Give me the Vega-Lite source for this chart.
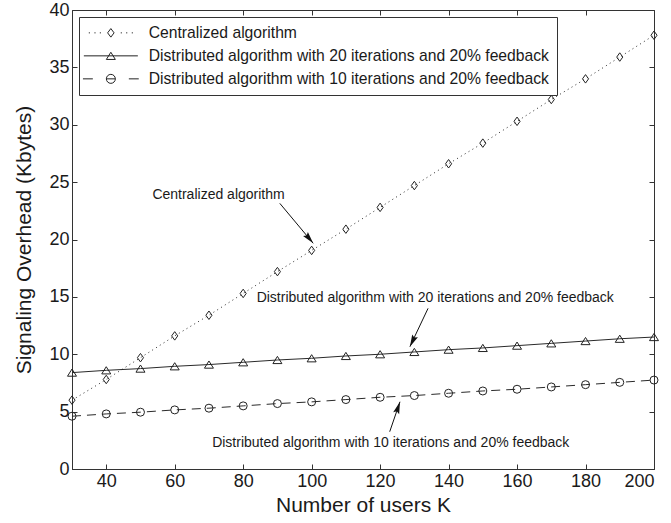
{
  "$schema": "https://vega.github.io/schema/vega-lite/v6.json",
  "width": 582,
  "height": 459,
  "autosize": {"type": "none"},
  "padding": {"left": 72, "top": 10, "right": 17, "bottom": 54},
  "background": "white",
  "config": {
    "font": "Liberation Sans",
    "view": {"stroke": "#333", "strokeWidth": 1},
    "axis": {
      "grid": false,
      "domainColor": "#333",
      "tickColor": "#333",
      "labelColor": "#1a1a1a",
      "titleColor": "#1a1a1a",
      "labelFont": "Liberation Sans",
      "titleFont": "Liberation Sans",
      "labelFontSize": 18,
      "titleFontSize": 21,
      "titleFontWeight": "normal",
      "tickSize": -5,
      "labelPadding": 8
    }
  },
  "datasets": {
    "series": [
      {"K": 30, "v": 6.0, "s": "Centralized algorithm"},
      {"K": 40, "v": 7.8, "s": "Centralized algorithm"},
      {"K": 50, "v": 9.7, "s": "Centralized algorithm"},
      {"K": 60, "v": 11.6, "s": "Centralized algorithm"},
      {"K": 70, "v": 13.4, "s": "Centralized algorithm"},
      {"K": 80, "v": 15.3, "s": "Centralized algorithm"},
      {"K": 90, "v": 17.2, "s": "Centralized algorithm"},
      {"K": 100, "v": 19.05, "s": "Centralized algorithm"},
      {"K": 110, "v": 20.9, "s": "Centralized algorithm"},
      {"K": 120, "v": 22.8, "s": "Centralized algorithm"},
      {"K": 130, "v": 24.7, "s": "Centralized algorithm"},
      {"K": 140, "v": 26.6, "s": "Centralized algorithm"},
      {"K": 150, "v": 28.4, "s": "Centralized algorithm"},
      {"K": 160, "v": 30.3, "s": "Centralized algorithm"},
      {"K": 170, "v": 32.2, "s": "Centralized algorithm"},
      {"K": 180, "v": 34.0, "s": "Centralized algorithm"},
      {"K": 190, "v": 35.9, "s": "Centralized algorithm"},
      {"K": 200, "v": 37.8, "s": "Centralized algorithm"},
      {"K": 30, "v": 8.4, "s": "Distributed algorithm with 20 iterations and 20% feedback"},
      {"K": 40, "v": 8.6, "s": "Distributed algorithm with 20 iterations and 20% feedback"},
      {"K": 50, "v": 8.75, "s": "Distributed algorithm with 20 iterations and 20% feedback"},
      {"K": 60, "v": 8.95, "s": "Distributed algorithm with 20 iterations and 20% feedback"},
      {"K": 70, "v": 9.1, "s": "Distributed algorithm with 20 iterations and 20% feedback"},
      {"K": 80, "v": 9.3, "s": "Distributed algorithm with 20 iterations and 20% feedback"},
      {"K": 90, "v": 9.5, "s": "Distributed algorithm with 20 iterations and 20% feedback"},
      {"K": 100, "v": 9.65, "s": "Distributed algorithm with 20 iterations and 20% feedback"},
      {"K": 110, "v": 9.85, "s": "Distributed algorithm with 20 iterations and 20% feedback"},
      {"K": 120, "v": 10.0, "s": "Distributed algorithm with 20 iterations and 20% feedback"},
      {"K": 130, "v": 10.2, "s": "Distributed algorithm with 20 iterations and 20% feedback"},
      {"K": 140, "v": 10.4, "s": "Distributed algorithm with 20 iterations and 20% feedback"},
      {"K": 150, "v": 10.55, "s": "Distributed algorithm with 20 iterations and 20% feedback"},
      {"K": 160, "v": 10.75, "s": "Distributed algorithm with 20 iterations and 20% feedback"},
      {"K": 170, "v": 10.95, "s": "Distributed algorithm with 20 iterations and 20% feedback"},
      {"K": 180, "v": 11.15, "s": "Distributed algorithm with 20 iterations and 20% feedback"},
      {"K": 190, "v": 11.35, "s": "Distributed algorithm with 20 iterations and 20% feedback"},
      {"K": 200, "v": 11.5, "s": "Distributed algorithm with 20 iterations and 20% feedback"},
      {"K": 30, "v": 4.6, "s": "Distributed algorithm with 10 iterations and 20% feedback"},
      {"K": 40, "v": 4.8, "s": "Distributed algorithm with 10 iterations and 20% feedback"},
      {"K": 50, "v": 4.95, "s": "Distributed algorithm with 10 iterations and 20% feedback"},
      {"K": 60, "v": 5.15, "s": "Distributed algorithm with 10 iterations and 20% feedback"},
      {"K": 70, "v": 5.3, "s": "Distributed algorithm with 10 iterations and 20% feedback"},
      {"K": 80, "v": 5.5, "s": "Distributed algorithm with 10 iterations and 20% feedback"},
      {"K": 90, "v": 5.7, "s": "Distributed algorithm with 10 iterations and 20% feedback"},
      {"K": 100, "v": 5.85, "s": "Distributed algorithm with 10 iterations and 20% feedback"},
      {"K": 110, "v": 6.05, "s": "Distributed algorithm with 10 iterations and 20% feedback"},
      {"K": 120, "v": 6.25, "s": "Distributed algorithm with 10 iterations and 20% feedback"},
      {"K": 130, "v": 6.4, "s": "Distributed algorithm with 10 iterations and 20% feedback"},
      {"K": 140, "v": 6.6, "s": "Distributed algorithm with 10 iterations and 20% feedback"},
      {"K": 150, "v": 6.8, "s": "Distributed algorithm with 10 iterations and 20% feedback"},
      {"K": 160, "v": 6.95, "s": "Distributed algorithm with 10 iterations and 20% feedback"},
      {"K": 170, "v": 7.15, "s": "Distributed algorithm with 10 iterations and 20% feedback"},
      {"K": 180, "v": 7.35, "s": "Distributed algorithm with 10 iterations and 20% feedback"},
      {"K": 190, "v": 7.55, "s": "Distributed algorithm with 10 iterations and 20% feedback"},
      {"K": 200, "v": 7.75, "s": "Distributed algorithm with 10 iterations and 20% feedback"}
    ],
    "notes": [
      {"K": 72.8, "v": 23.9, "label": "Centralized algorithm"},
      {"K": 136.1, "v": 14.9, "label": "Distributed algorithm with 20 iterations and 20% feedback"},
      {"K": 123.1, "v": 2.3, "label": "Distributed algorithm with 10 iterations and 20% feedback"}
    ],
    "arrows": [
      {"id": "c", "K": 90.7, "v": 23.15, "K2": 100.45, "v2": 19.67},
      {"id": "d20", "K": 134.0, "v": 14.0, "K2": 128.7, "v2": 10.66},
      {"id": "d10", "K": 122.8, "v": 3.25, "K2": 125.8, "v2": 5.86}
    ]
  },
  "layer": [
    {
      "data": {"name": "series"},
      "transform": [{"filter": "datum.s === 'Centralized algorithm'"}],
      "mark": {"type": "line", "color": "#2a2a2a", "strokeWidth": 1, "strokeDash": [1, 3.5]},
      "encoding": {
        "x": {
          "field": "K", "type": "quantitative",
          "scale": {"domain": [30, 200], "nice": false, "zero": false},
          "axis": {"orient": "bottom", "values": [40, 60, 80, 100, 120, 140, 160, 180, 200], "title": "Number of users K", "titlePadding": 4}
        },
        "y": {
          "field": "v", "type": "quantitative",
          "scale": {"domain": [0, 40], "nice": false},
          "axis": {"orient": "left", "values": [0, 5, 10, 15, 20, 25, 30, 35, 40], "title": "Signaling Overhead (Kbytes)", "titlePadding": 14}
        }
      }
    },
    {
      "data": {"name": "series"},
      "transform": [{"filter": "datum.s === 'Distributed algorithm with 20 iterations and 20% feedback'"}],
      "mark": {"type": "line", "color": "#2a2a2a", "strokeWidth": 1},
      "encoding": {
        "x": {"field": "K", "type": "quantitative", "axis": null},
        "y": {"field": "v", "type": "quantitative", "axis": null}
      }
    },
    {
      "data": {"name": "series"},
      "transform": [{"filter": "datum.s === 'Distributed algorithm with 10 iterations and 20% feedback'"}],
      "mark": {"type": "line", "color": "#2a2a2a", "strokeWidth": 1, "strokeDash": [9, 6]},
      "encoding": {
        "x": {"field": "K", "type": "quantitative", "axis": null},
        "y": {"field": "v", "type": "quantitative", "axis": null}
      }
    },
    {
      "data": {"name": "series"},
      "transform": [{"filter": "datum.s === 'Centralized algorithm'"}],
      "mark": {"type": "point", "shape": "M0,-1 L0.72,0 L0,1 L-0.72,0 Z", "size": 72, "filled": false, "color": "#222", "strokeWidth": 1, "opacity": 1},
      "encoding": {
        "x": {"field": "K", "type": "quantitative", "axis": null},
        "y": {"field": "v", "type": "quantitative", "axis": null}
      }
    },
    {
      "data": {"name": "series"},
      "transform": [{"filter": "datum.s === 'Distributed algorithm with 20 iterations and 20% feedback'"}],
      "mark": {"type": "point", "shape": "M0,-0.8 L1,0.8 L-1,0.8 Z", "size": 81, "filled": false, "color": "#222", "strokeWidth": 1, "opacity": 1},
      "encoding": {
        "x": {"field": "K", "type": "quantitative", "axis": null},
        "y": {"field": "v", "type": "quantitative", "axis": null}
      }
    },
    {
      "data": {"name": "series"},
      "transform": [{"filter": "datum.s === 'Distributed algorithm with 10 iterations and 20% feedback'"}],
      "mark": {"type": "point", "shape": "circle", "size": 64, "filled": false, "color": "#222", "strokeWidth": 1, "opacity": 1},
      "encoding": {
        "x": {"field": "K", "type": "quantitative", "axis": null},
        "y": {"field": "v", "type": "quantitative", "axis": null}
      }
    },
    {
      "data": {"name": "series"},
      "mark": {"type": "point", "filled": false, "color": "#222", "strokeWidth": 1, "size": 81, "strokeOpacity": 0},
      "encoding": {
        "x": {"field": "K", "type": "quantitative", "axis": null},
        "y": {"field": "v", "type": "quantitative", "axis": null},
        "shape": {
          "field": "s", "type": "nominal",
          "scale": {
            "domain": ["Centralized algorithm", "Distributed algorithm with 20 iterations and 20% feedback", "Distributed algorithm with 10 iterations and 20% feedback"],
            "range": [
              "M-4.9,0 L-4.65,0 M-3.65,0 L-3.4,0 M-2.45,0 L-2.2,0 M2.2,0 L2.45,0 M3.4,0 L3.65,0 M4.65,0 L4.9,0 M0,-0.95 L0.72,0 L0,0.95 L-0.72,0 Z",
              "M-6,0 L6,0 M0,-0.8 L1,0.8 L-1,0.8 Z",
              "M-6.2,0 L-4,0 M4,0 L6.2,0 M-1,0 L1,0 M1,0 A1,1 0 1,1 -1,0 A1,1 0 1,1 1,0"
            ]
          },
          "legend": {
            "title": null,
            "orient": "top-left",
            "offset": 7,
            "padding": 8,
            "fillColor": "white",
            "strokeColor": "#333",
            "cornerRadius": 0,
            "labelFont": "Liberation Sans",
            "labelFontSize": 15.7,
            "labelColor": "#1a1a1a",
            "labelLimit": 600,
            "symbolSize": 81,
            "symbolOffset": 16,
            "labelOffset": 30,
            "rowPadding": 6,
            "symbolStrokeWidth": 1,
            "symbolStrokeColor": "#222",
            "symbolFillColor": "transparent",
            "symbolOpacity": 1,
            "encode": {"symbols": {"update": {"opacity": {"value": 1}, "strokeOpacity": {"value": 1}, "stroke": {"value": "#222"}}}}
          }
        }
      }
    },
    {
      "data": {"name": "series"},
      "mark": {"type": "point", "opacity": 0},
      "encoding": {
        "x": {"field": "K", "type": "quantitative", "axis": {"orient": "top", "values": [40, 60, 80, 100, 120, 140, 160, 180, 200], "labels": false, "domain": false, "title": null}},
        "y": {"field": "v", "type": "quantitative", "axis": {"orient": "right", "values": [0, 5, 10, 15, 20, 25, 30, 35, 40], "labels": false, "domain": false, "title": null}}
      }
    },
    {
      "data": {"name": "arrows"},
      "mark": {"type": "rule", "color": "#111", "strokeWidth": 1},
      "encoding": {
        "x": {"field": "K", "type": "quantitative", "axis": null},
        "y": {"field": "v", "type": "quantitative", "axis": null},
        "x2": {"field": "K2"},
        "y2": {"field": "v2"}
      }
    },
    {
      "data": {"name": "arrows"},
      "transform": [{"filter": "datum.id === 'c'"}],
      "mark": {"type": "point", "shape": "M0,0 L0.42,1.6 L0,1.35 L-0.42,1.6 Z", "size": 225, "filled": true, "color": "#111", "opacity": 1, "angle": 140},
      "encoding": {
        "x": {"field": "K2", "type": "quantitative", "axis": null},
        "y": {"field": "v2", "type": "quantitative", "axis": null}
      }
    },
    {
      "data": {"name": "arrows"},
      "transform": [{"filter": "datum.id === 'd20'"}],
      "mark": {"type": "point", "shape": "M0,0 L0.42,1.6 L0,1.35 L-0.42,1.6 Z", "size": 225, "filled": true, "color": "#111", "opacity": 1, "angle": 205.5},
      "encoding": {
        "x": {"field": "K2", "type": "quantitative", "axis": null},
        "y": {"field": "v2", "type": "quantitative", "axis": null}
      }
    },
    {
      "data": {"name": "arrows"},
      "transform": [{"filter": "datum.id === 'd10'"}],
      "mark": {"type": "point", "shape": "M0,0 L0.42,1.6 L0,1.35 L-0.42,1.6 Z", "size": 225, "filled": true, "color": "#111", "opacity": 1, "angle": 18.4},
      "encoding": {
        "x": {"field": "K2", "type": "quantitative", "axis": null},
        "y": {"field": "v2", "type": "quantitative", "axis": null}
      }
    },
    {
      "data": {"name": "notes"},
      "mark": {"type": "text", "font": "Liberation Sans", "fontSize": 14, "color": "#1a1a1a", "align": "center", "baseline": "middle"},
      "encoding": {
        "x": {"field": "K", "type": "quantitative", "axis": null},
        "y": {"field": "v", "type": "quantitative", "axis": null},
        "text": {"field": "label"}
      }
    }
  ],
  "resolve": {"axis": {"x": "independent", "y": "independent"}}
}
